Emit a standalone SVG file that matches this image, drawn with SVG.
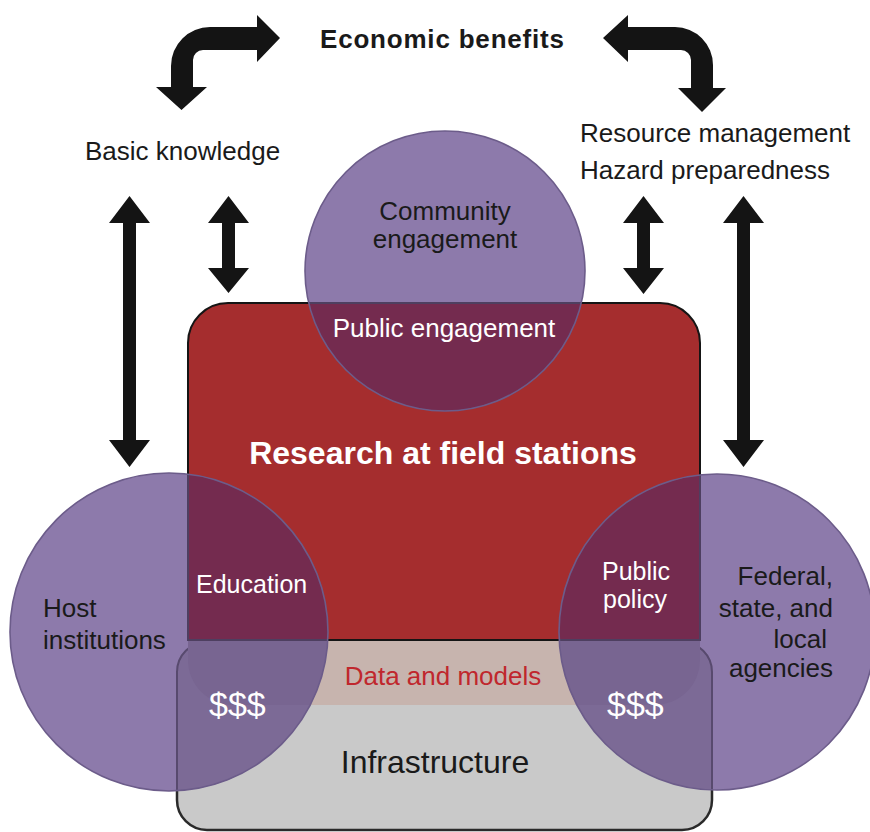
<svg xmlns="http://www.w3.org/2000/svg" width="870" height="832" viewBox="0 0 870 832">
  <defs>
    <style>
      .t { font-family: "Liberation Sans", Arial, sans-serif; font-size: 26px; fill: #1a1a1a; }
      .w { fill: #ffffff; }
      .b { font-weight: bold; }
      .mid { text-anchor: middle; }
      .end { text-anchor: end; }
      .s25 { font-size: 25px; }
      .s32 { font-size: 32px; }
      .s34 { font-size: 34px; }
      .red { fill: #c0272d; }
      .arrow { fill: #141414; }
      .circle { fill: #8d7aab; }
      .ring { fill: none; stroke: #6c5c8a; stroke-width: 1.6; }
    </style>
    <!-- shared shapes -->
    <path id="redShape" d="M188,640 V343 A40,40 0 0 1 228,303 H660 A40,40 0 0 1 700,343 V640 Z"/>
    <rect id="boxShape" x="177" y="642" width="535" height="188" rx="30"/>
    <path id="bandShape" d="M188,641 H700 V660 A45,45 0 0 1 655,705 H233 A45,45 0 0 1 188,660 Z"/>
    <clipPath id="circleClip">
      <circle cx="445" cy="271" r="140"/>
      <circle cx="169" cy="632" r="159"/>
      <circle cx="717" cy="632" r="158"/>
    </clipPath>
  </defs>

  <rect width="870" height="832" fill="#ffffff"/>

  <!-- arrows linking the outcomes -->
  <g id="connectors">
    <path class="arrow" d="M280,38 L257,15 L257,27 L210,27 A39,39 0 0 0 171,66 L171,87 L156,87 L181.5,110 L207,87 L193,87 L193,60 A10,10 0 0 1 203,50 L257,50 L257,62 Z"/>
    <path class="arrow" d="M603,38 L628,15 L628,27 L675,27 A38,38 0 0 1 713,65 L713,88 L726,88 L702,112 L678,88 L691,88 L691,60 A10,10 0 0 0 681,50 L628,50 L628,62 Z"/>
    <path class="arrow" d="M129.5,196 L150,223 L136,223 L136,440 L150,440 L129.5,467 L109,440 L123,440 L123,223 L109,223 Z"/>
    <path class="arrow" d="M228.5,196 L249,223 L235,223 L235,268 L249,268 L228.5,293 L208,268 L222,268 L222,223 L208,223 Z"/>
    <path class="arrow" d="M643.5,196 L664,223 L650,223 L650,268 L664,268 L643.5,294 L623,268 L637,268 L637,223 L623,223 Z"/>
    <path class="arrow" d="M743.5,196 L764,223 L750,223 L750,440 L764,440 L743.5,467 L723,440 L737,440 L737,223 L723,223 Z"/>
  </g>

  <!-- central research block -->
  <g id="research">
    <use href="#redShape" fill="#a52d2e" stroke="#151515" stroke-width="2"/>
  </g>

  <!-- infrastructure base with data band -->
  <g id="infrastructure">
    <use href="#boxShape" fill="#c9c9c9" stroke="#2a2a2a" stroke-width="2.5"/>
    <use href="#bandShape" fill="#c7b4ae"/>
    <line x1="188" y1="640" x2="700" y2="640" stroke="#151515" stroke-width="2"/>
  </g>

  <!-- partner circles -->
  <g id="community">
    <circle class="circle" cx="445" cy="271" r="140"/>
  </g>
  <g id="host">
    <circle class="circle" cx="169" cy="632" r="159"/>
  </g>
  <g id="agencies">
    <circle class="circle" cx="717" cy="632" r="158"/>
  </g>

  <!-- overlap tints where circles meet the block and the base -->
  <g id="overlaps" clip-path="url(#circleClip)">
    <use href="#redShape" fill="#742b4f" stroke="#4e3f60" stroke-width="2"/>
    <use href="#boxShape" fill="#7c6a96" stroke="#584a6e" stroke-width="2"/>
    <use href="#bandShape" fill="#786591"/>
    <line x1="188" y1="640" x2="700" y2="640" stroke="#4e3f60" stroke-width="2"/>
  </g>

  <g id="rings">
    <circle class="ring" cx="445" cy="271" r="140"/>
    <circle class="ring" cx="169" cy="632" r="159"/>
    <circle class="ring" cx="717" cy="632" r="158"/>
  </g>

  <!-- labels -->
  <g id="labels">
    <text class="t b mid" x="442" y="48" textLength="244">Economic benefits</text>
    <text class="t" x="85" y="160">Basic knowledge</text>
    <text class="t" x="580" y="142">Resource management</text>
    <text class="t" x="580" y="179">Hazard preparedness</text>

    <text class="t mid" x="445" y="220">Community</text>
    <text class="t mid" x="445" y="248">engagement</text>
    <text class="t w mid" x="444" y="337">Public engagement</text>

    <text class="t w b mid s32" x="443" y="464">Research at field stations</text>

    <text class="t w s25" x="196" y="593">Education</text>
    <text class="t" x="43" y="617">Host</text>
    <text class="t" x="43" y="649">institutions</text>

    <text class="t w mid s25" x="636" y="580">Public</text>
    <text class="t w mid s25" x="635" y="608">policy</text>

    <text class="t end" x="833" y="585">Federal,</text>
    <text class="t end" x="833" y="617">state, and</text>
    <text class="t end" x="827" y="648">local</text>
    <text class="t end" x="833" y="677">agencies</text>

    <text class="t mid red" x="443" y="685">Data and models</text>
    <text class="t w s34" x="209" y="716">$$$</text>
    <text class="t w s34" x="607" y="716">$$$</text>
    <text class="t mid s32" x="435" y="773">Infrastructure</text>
  </g>
</svg>
